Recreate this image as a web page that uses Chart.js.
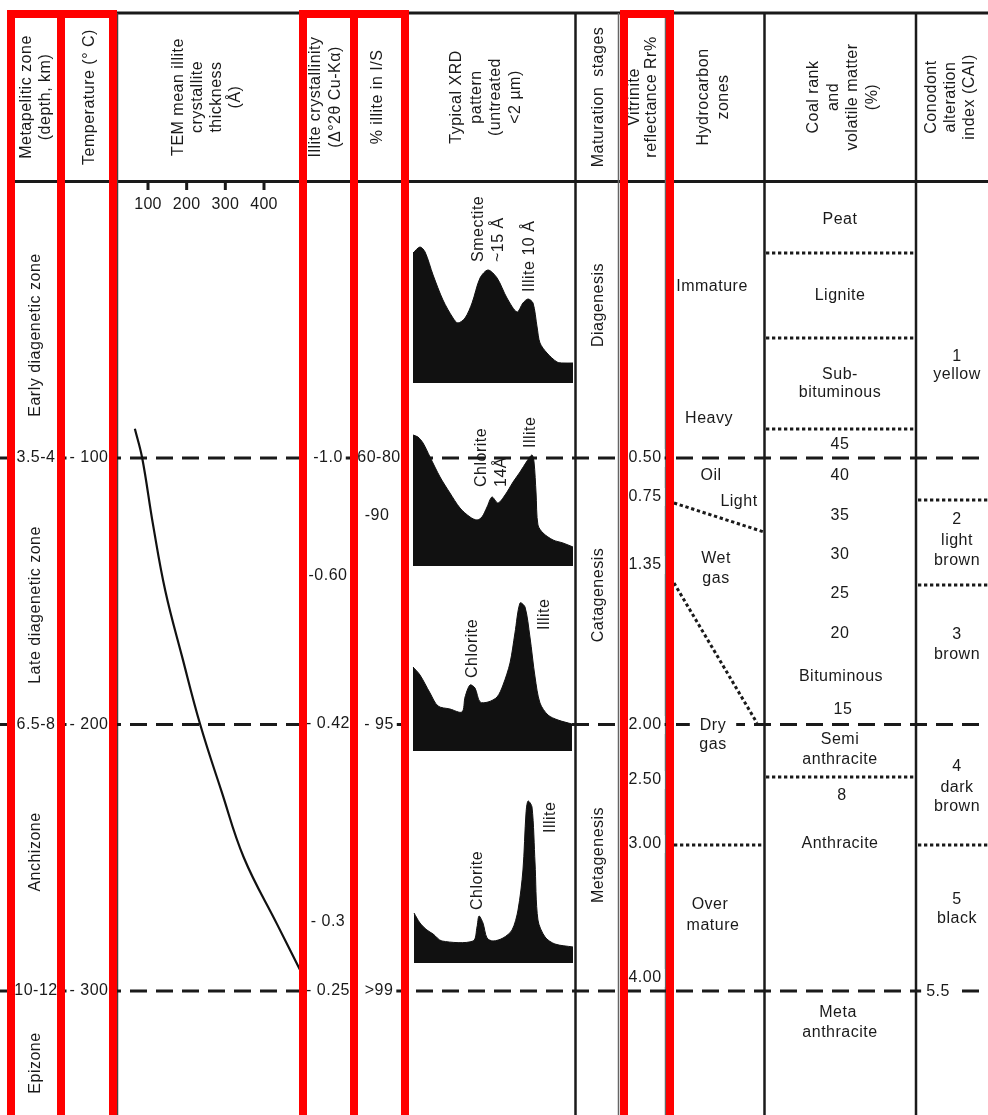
<!DOCTYPE html>
<html>
<head>
<meta charset="utf-8">
<script src="https://cdn.jsdelivr.net/npm/chart.js@4.4.1/dist/chart.umd.min.js"></script>
<style>
  html, body { margin: 0; padding: 0; background: #fff; overflow: hidden; }
  canvas { display: block; }
</style>
</head>
<body>
<canvas id="chart" width="988" height="1115"></canvas>
<script>
// ---------- data ----------
// zone boundaries (temperature, °C) and their labels
const boundaryTempsC = [100, 200, 300];
const depthLabels = ['3.5-4', '6.5-8', '10-12'];
const tempLabels = ['- 100', '- 200', '- 300'];
const pctIlliteBoundary = ['60-80', '- 95', '>99'];

// TEM mean illite crystallite thickness (Å) versus temperature (°C)
const temTempC = [89, 100, 125, 150, 175, 200, 225, 250, 275, 292];
const temThicknessA = [66, 85, 113, 145, 189, 235, 290, 348, 434, 493];
const temTicks = [100, 200, 300, 400];

// typical XRD patterns (°2θ, relative counts)
const xrd1TwoTheta = [1.00, 1.48, 1.83, 2.38, 3.06, 3.75, 4.09, 4.58, 5.06, 5.61, 6.16, 6.78, 7.46, 8.15, 8.56, 8.91, 9.25, 9.53, 9.73, 10.21, 10.90, 11.31, 12.00];
const xrd1Counts   = [130, 136, 131, 108, 83, 65, 60, 65, 80, 105, 113, 105, 85, 71, 80, 84, 80, 56, 40, 30, 21, 20, 20];
const xrd2TwoTheta = [1.00, 1.34, 1.69, 2.17, 2.86, 3.54, 4.23, 4.92, 5.40, 5.74, 6.09, 6.43, 6.84, 7.33, 7.88, 8.36, 8.84, 9.18, 9.32, 9.46, 9.59, 9.94, 10.63, 11.31, 12.00];
const xrd2Counts   = [131, 129, 123, 109, 89, 73, 58, 49, 46, 49, 59, 69, 63, 71, 84, 94, 105, 111, 104, 73, 41, 33, 26, 23, 19];
const xrd3TwoTheta = [1.00, 1.48, 2.17, 2.72, 3.54, 4.37, 4.58, 4.92, 5.26, 5.61, 6.16, 6.78, 7.19, 7.67, 8.01, 8.36, 8.70, 9.04, 9.39, 9.73, 10.28, 10.97, 11.93];
const xrd3Counts   = [84, 76, 58, 45, 42, 39, 54, 66, 63, 49, 49, 54, 66, 88, 118, 148, 144, 114, 74, 48, 36, 31, 27];
const xrd4TwoTheta = [1.07, 1.48, 1.96, 2.38, 2.99, 5.13, 5.40, 5.54, 5.81, 6.09, 6.50, 7.19, 7.81, 8.22, 8.56, 8.77, 8.91, 9.18, 9.39, 9.59, 10.08, 10.76, 12.00];
const xrd4Counts   = [50, 40, 33, 29, 22, 22, 36, 47, 40, 25, 22, 25, 33, 53, 93, 150, 162, 156, 100, 43, 26, 19, 16];

// column texts
const crystallinityLabels = ['-1.0', '-0.60', '- 0.42', '- 0.3', '- 0.25'];
const vitriniteLabels = ['0.50', '0.75', '1.35', '2.00', '2.50', '3.00', '4.00'];
const zoneNames = ['Early diagenetic zone', 'Late diagenetic zone', 'Anchizone', 'Epizone'];
const stageNames = ['Diagenesis', 'Catagenesis', 'Metagenesis'];

// ---------- layout ----------
const W = 988, H = 1115;
const FONT = '"Liberation Sans", Arial, Helvetica, sans-serif';
const INK = '#1a1a1a';

// map two (value, pixel) anchors onto an axis that spans the whole canvas
function spanFor(v1, p1, v2, p2, size) {
  const k = (p2 - p1) / (v2 - v1);
  const min = v1 - p1 / k;
  return { min, max: min + size / k };
}
const tempSpan = spanFor(100, 458, 300, 991, H);      // temperature grows downward
const temSpan  = spanFor(100, 148, 400, 264, W);      // TEM thickness axis in its column
const xrdSpan  = spanFor(1, 413, 12, 573, W);          // °2θ axis in the XRD column
const xrdBaselines = [383, 566, 751, 963];
const countAxis = b => ({ type: 'linear', display: false, min: b - H, max: b });

function txt(ctx, s, x, y, o = {}) {
  ctx.save();
  ctx.font = (o.size || 16) + 'px ' + FONT;
  ctx.letterSpacing = o.ls || '0.5px';
  ctx.textAlign = o.align || 'center';
  ctx.textBaseline = 'middle';
  ctx.translate(x, y);
  if (o.rot) ctx.rotate(-Math.PI / 2);
  if (o.bg) {
    const w = ctx.measureText(s).width;
    const pad = o.pad || 3;
    ctx.fillStyle = '#fff';
    ctx.fillRect(-w / 2 - pad, -9, w + 2 * pad, 18);
  }
  ctx.fillStyle = INK;
  ctx.fillText(s, 0, 0);
  ctx.restore();
}
function rotLines(ctx, lines, cx, cy, lh) {
  lines.forEach((s, i) => txt(ctx, s, cx + (i - (lines.length - 1) / 2) * lh, cy, { rot: true }));
}
function line(ctx, x1, y1, x2, y2, w, dash, color) {
  ctx.save();
  ctx.strokeStyle = color || INK;
  ctx.lineWidth = w;
  ctx.setLineDash(dash || []);
  ctx.beginPath();
  ctx.moveTo(x1, y1);
  ctx.lineTo(x2, y2);
  ctx.stroke();
  ctx.restore();
}
const DOT = [3.3, 2.7];

const headers = [
  { cx: 36,  lh: 19, lines: ['Metapelitic zone', '(depth, km)'] },
  { cx: 90,  lh: 19, lines: ['Temperature (° C)'] },
  { cx: 207, lh: 19, lines: ['TEM mean illite', 'crystallite', 'thickness', '(Å)'] },
  { cx: 326, lh: 20, lines: ['Illite crystallinity', '(Δ°2θ Cu-Kα)'] },
  { cx: 378, lh: 19, lines: ['% illite in I/S'] },
  { cx: 486, lh: 19.5, lines: ['Typical XRD', 'pattern', '(untreated', '<2 µm)'] },
  { cx: 599, lh: 19, lines: ['Maturation  stages'] },
  { cx: 643, lh: 17, lines: ['Vitrinite', 'reflectance Rr%'] },
  { cx: 714, lh: 20, lines: ['Hydrocarbon', 'zones'] },
  { cx: 843, lh: 19.7, lines: ['Coal rank', 'and', 'volatile matter', '(%)'] },
  { cx: 951, lh: 19, lines: ['Conodont', 'alteration', 'index (CAI)'] }
];

const xrdPeakLabels = [
  ['Smectite', 479, 262], ['~15 Å', 499, 262], ['Illite 10 Å', 530, 292],
  ['Chlorite', 482, 487], ['14Å', 502, 487], ['Illite', 531, 448],
  ['Chlorite', 473, 678], ['Illite', 545, 630],
  ['Chlorite', 478, 910], ['Illite', 551, 833]
];
const hydrocarbonLabels = [
  ['Immature', 712, 287], ['Heavy', 709, 419], ['Oil', 711, 476], ['Light', 739, 502],
  ['Wet', 716, 559], ['gas', 716, 579], ['gas', 713, 745], ['Over', 710, 905], ['mature', 713, 926]
];
const coalLabels = [
  ['Peat', 840, 220], ['Lignite', 840, 296], ['Sub-', 840, 375], ['bituminous', 840, 393],
  ['45', 840, 445], ['40', 840, 476], ['35', 840, 516], ['30', 840, 555], ['25', 840, 594],
  ['20', 840, 634], ['Bituminous', 841, 677], ['15', 843, 710], ['Semi', 840, 740],
  ['anthracite', 840, 760], ['8', 842, 796], ['Anthracite', 840, 844],
  ['Meta', 838, 1013], ['anthracite', 840, 1033]
];
const caiLabels = [
  ['1', 957, 357], ['yellow', 957, 375], ['2', 957, 520], ['light', 957, 541], ['brown', 957, 561],
  ['3', 957, 635], ['brown', 957, 655], ['4', 957, 767], ['dark', 957, 788], ['brown', 957, 807],
  ['5', 957, 900], ['black', 957, 919]
];

const tablePlugin = {
  id: 'table',
  beforeDraw(chart) {
    const ctx = chart.ctx;
    ctx.save();
    ctx.fillStyle = '#fff';
    ctx.fillRect(0, 0, W, H);
    ctx.restore();
  },
  beforeDatasetsDraw(chart) {
    const ctx = chart.ctx;
    const ys = chart.scales.y;
    // frame and column rules
    line(ctx, 10, 13, W, 13, 3);
    line(ctx, 10, 181.5, W, 181.5, 3);
    [[14, 2], [61, 2], [117.5, 1.5, '#444'], [300, 2], [355, 2], [406, 2], [575.5, 2.5],
     [618.5, 1.5, '#666'], [665.5, 1.5, '#666'], [764.5, 2.5], [916, 2.5]]
      .forEach(([x, w, c]) => line(ctx, x, 13, x, H, w, null, c));
    // zone boundaries
    boundaryTempsC.forEach(t => {
      const py = ys.getPixelForValue(t);
      line(ctx, 0, py, W, py, 3, [17, 9]);
    });
    // coal rank, CAI and hydrocarbon subdivisions
    [253, 338, 429, 777].forEach(py => line(ctx, 766, py, 915, py, 3, DOT));
    [500, 585, 845].forEach(py => line(ctx, 918, py, W, py, 3, DOT));
    line(ctx, 674, 845, 763, 845, 3, DOT);
    line(ctx, 674, 503, 764, 532, 3, DOT);
    line(ctx, 674, 583, 757, 723, 3, DOT);
  },
  afterDatasetsDraw(chart) {
    const ctx = chart.ctx;
    const ys = chart.scales.y;
    const xt = chart.scales.xTem;

    headers.forEach(h => rotLines(ctx, h.lines, h.cx, 97, h.lh));

    // TEM thickness axis
    temTicks.forEach(v => {
      const px = xt.getPixelForValue(v);
      line(ctx, px, 182, px, 190, 3);
      txt(ctx, String(v), px, 205, { ls: '0.3px' });
    });

    // labels sitting on zone boundaries
    boundaryTempsC.forEach((t, i) => {
      const py = ys.getPixelForValue(t);
      txt(ctx, depthLabels[i], 36, py, { bg: true });
      txt(ctx, tempLabels[i], 89, py, { bg: true });
      txt(ctx, pctIlliteBoundary[i], 379, py, { bg: true });
    });
    const crystY = [458, 576, 724, 922, 991];
    crystallinityLabels.forEach((s, i) => txt(ctx, s, 328, crystY[i], { bg: true }));
    txt(ctx, '-90', 377, 516);
    const vitY = [458, 497, 565, 725, 780, 844, 978];
    vitriniteLabels.forEach((s, i) => txt(ctx, s, 645, vitY[i], { bg: true }));
    txt(ctx, 'Dry', 713, 726, { bg: true, pad: 10 });
    txt(ctx, '5.5', 938, 992, { bg: true, pad: 5 });

    // rotated zone and stage names
    [335, 605, 852, 1063].forEach((py, i) => txt(ctx, zoneNames[i], 36, py, { rot: true }));
    [305, 595, 855].forEach((py, i) => txt(ctx, stageNames[i], 599, py, { rot: true }));

    xrdPeakLabels.forEach(([s, x, y]) => txt(ctx, s, x, y, { rot: true, align: 'left' }));
    hydrocarbonLabels.forEach(([s, x, y]) => txt(ctx, s, x, y));
    coalLabels.forEach(([s, x, y]) => txt(ctx, s, x, y));
    caiLabels.forEach(([s, x, y]) => txt(ctx, s, x, y));
  },
  afterDraw(chart) {
    // highlighted columns
    const ctx = chart.ctx;
    ctx.save();
    ctx.strokeStyle = '#ff0000';
    ctx.lineWidth = 8;
    [[11, 61], [61, 113], [303, 354], [354, 405], [624, 670]].forEach(([l, r]) => {
      ctx.strokeRect(l, 14, r - l, H + 40);
    });
    ctx.restore();
  }
};

const xy = (xs, ys) => xs.map((x, i) => ({ x, y: ys[i] }));
const xrdSet = (xs, ys, axis) => ({
  data: xy(xs, ys), xAxisID: 'xXrd', yAxisID: axis, showLine: true,
  borderColor: '#111', borderWidth: 1, backgroundColor: '#111',
  fill: 'origin', pointRadius: 0, tension: 0.3
});

new Chart(document.getElementById('chart'), {
  type: 'scatter',
  data: {
    datasets: [
      xrdSet(xrd1TwoTheta, xrd1Counts, 'yX1'),
      xrdSet(xrd2TwoTheta, xrd2Counts, 'yX2'),
      xrdSet(xrd3TwoTheta, xrd3Counts, 'yX3'),
      xrdSet(xrd4TwoTheta, xrd4Counts, 'yX4'),
      {
        data: xy(temThicknessA, temTempC), xAxisID: 'xTem', yAxisID: 'y',
        showLine: true, borderColor: '#111', borderWidth: 2.2, pointRadius: 0,
        tension: 0.4, fill: false
      }
    ]
  },
  options: {
    responsive: false,
    animation: false,
    devicePixelRatio: 1,
    events: [],
    layout: { padding: 0 },
    plugins: { legend: { display: false }, tooltip: { enabled: false } },
    scales: {
      xTem: { type: 'linear', display: false, min: temSpan.min, max: temSpan.max },
      xXrd: { type: 'linear', display: false, min: xrdSpan.min, max: xrdSpan.max },
      y:    { type: 'linear', display: false, reverse: true, min: tempSpan.min, max: tempSpan.max },
      yX1: countAxis(xrdBaselines[0]),
      yX2: countAxis(xrdBaselines[1]),
      yX3: countAxis(xrdBaselines[2]),
      yX4: countAxis(xrdBaselines[3])
    }
  },
  plugins: [tablePlugin]
});
</script>
</body>
</html>
